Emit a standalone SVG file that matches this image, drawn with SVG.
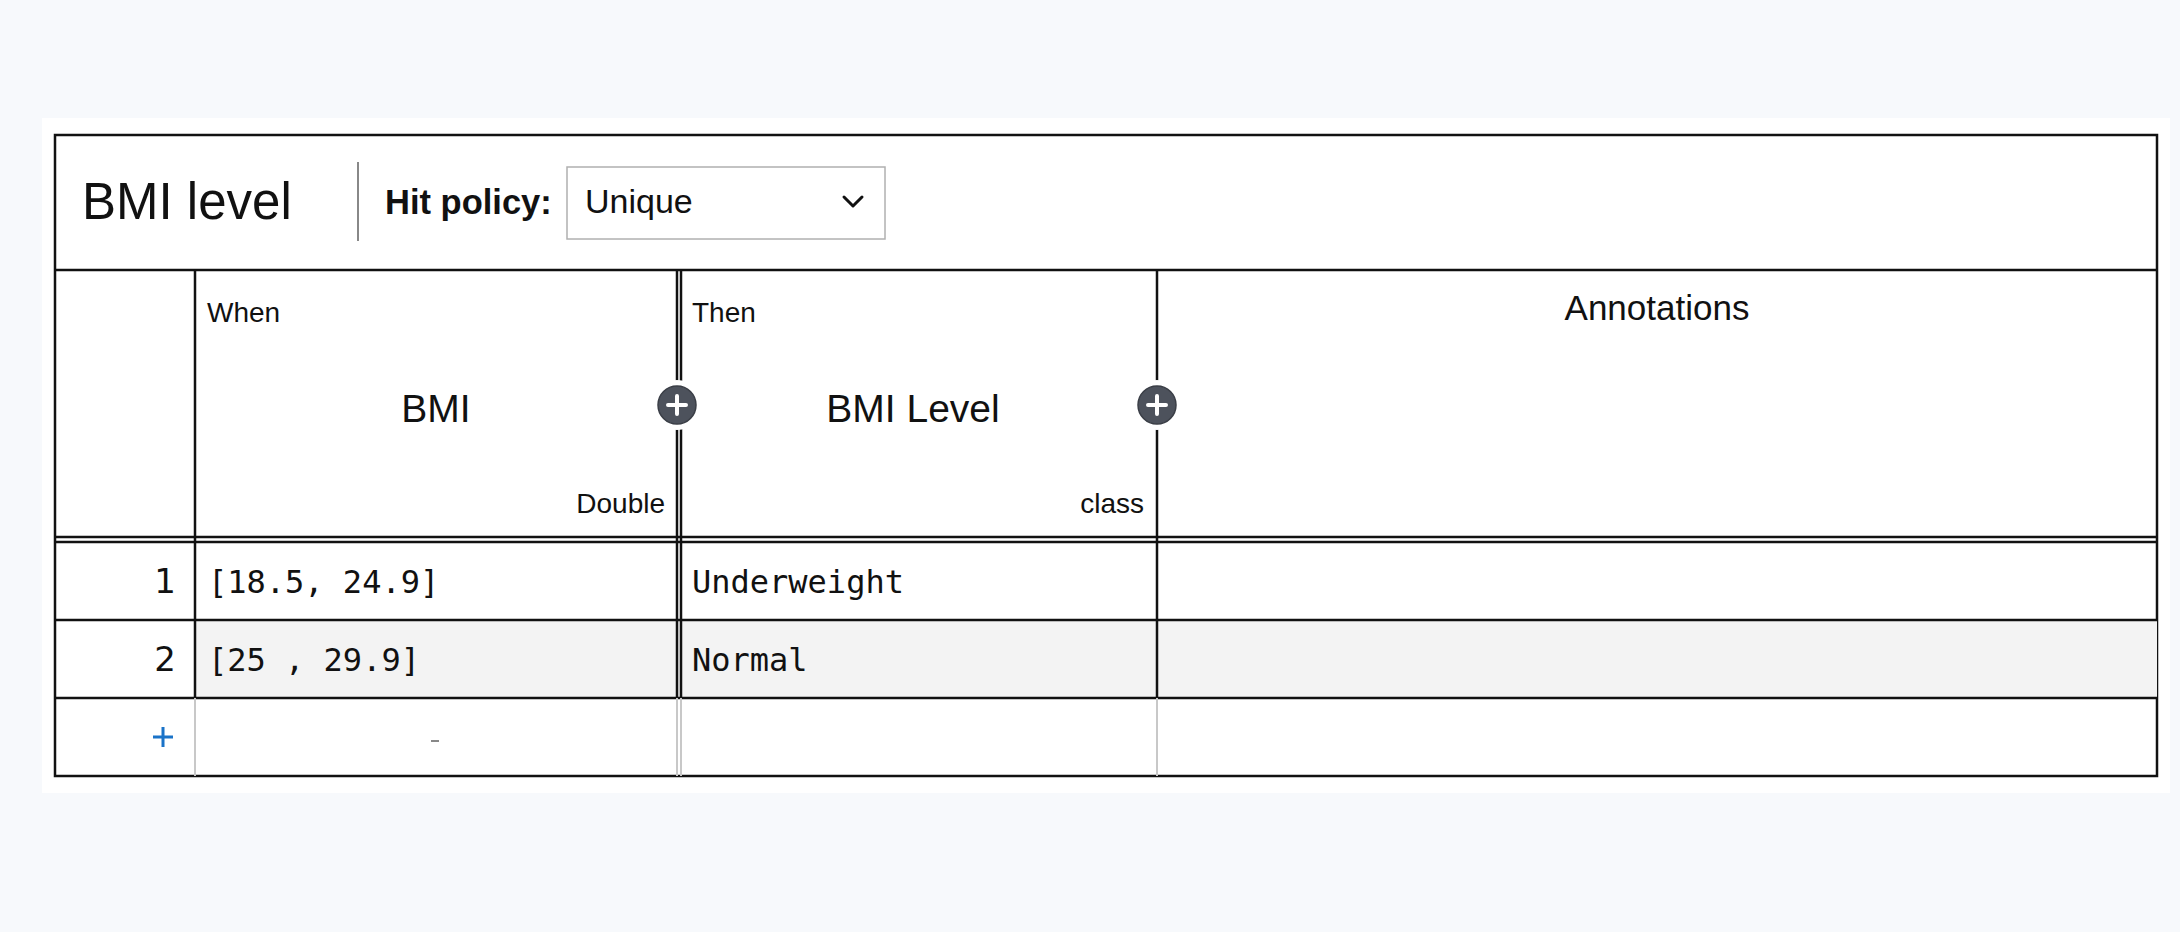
<svg xmlns="http://www.w3.org/2000/svg" width="2180" height="932" viewBox="0 0 2180 932">
<defs>
<style>
.sans{font-family:"Liberation Sans",Arial,sans-serif;fill:#111}
.mono{font-family:"DejaVu Sans Mono","Liberation Mono",monospace;fill:#111;font-size:32px}
.num{font-family:"DejaVu Sans","Liberation Sans",sans-serif;fill:#111;font-size:34px}
.grid{stroke:#111;stroke-width:2.5;fill:none}
.light{stroke:#c8c8c8;stroke-width:2;fill:none}
.sm{font-size:28px}
.hd{font-size:39px}
</style>
<g id="plusBtn">
<circle r="25" fill="#ffffff"/>
<circle r="19" fill="#4d525c" stroke="#3a3e46" stroke-width="1.5"/>
<path d="M-9 0H9M0 -9V9" stroke="#ffffff" stroke-width="4" stroke-linecap="round"/>
</g>
</defs>
<rect width="2180" height="932" fill="#f7f9fc"/>
<rect x="42" y="118" width="2128" height="675" fill="#ffffff"/>

<g id="table-frame">
<rect x="55" y="135" width="2102" height="641" fill="#ffffff" class="grid"/>
<rect x="195" y="620" width="1962" height="78" fill="#f3f3f3"/>
<line x1="55" y1="270" x2="2157" y2="270" class="grid"/>
<line x1="55" y1="537" x2="2157" y2="537" class="grid"/>
<line x1="55" y1="542" x2="2157" y2="542" class="grid"/>
<line x1="55" y1="620" x2="2157" y2="620" class="grid"/>
<line x1="55" y1="698" x2="2157" y2="698" class="grid"/>
<line x1="195" y1="270" x2="195" y2="698" class="grid"/>
<line x1="677" y1="270" x2="677" y2="698" class="grid" stroke-width="2"/>
<line x1="681" y1="270" x2="681" y2="698" class="grid" stroke-width="2"/>
<line x1="1157" y1="270" x2="1157" y2="698" class="grid"/>
<line x1="195" y1="698" x2="195" y2="776" class="light"/>
<line x1="677" y1="698" x2="677" y2="776" class="light"/>
<line x1="681" y1="698" x2="681" y2="776" class="light"/>
<line x1="1157" y1="698" x2="1157" y2="776" class="light"/>
</g>

<g id="title-bar">
<text x="82" y="219" class="sans" font-size="51">BMI level</text>
<line x1="358" y1="162" x2="358" y2="241" stroke="#888" stroke-width="2"/>
<text x="385" y="214" class="sans" font-size="34.5" font-weight="bold">Hit policy:</text>
<rect x="567" y="167" width="318" height="72" fill="#ffffff" stroke="#b0b0b0" stroke-width="1.5"/>
<text x="585" y="213" class="sans" font-size="34">Unique</text>
<path d="M844 197L853 206L862 197" fill="none" stroke="#111" stroke-width="3" stroke-linecap="round" stroke-linejoin="round"/>
</g>

<g id="input-header">
<text x="207" y="322" class="sans sm">When</text>
<text x="436" y="422" class="sans hd" text-anchor="middle">BMI</text>
<text x="665" y="513" class="sans sm" text-anchor="end">Double</text>
</g>

<g id="output-header">
<text x="692" y="322" class="sans sm">Then</text>
<text x="913" y="422" class="sans hd" text-anchor="middle">BMI Level</text>
<text x="1144" y="513" class="sans sm" text-anchor="end">class</text>
</g>

<g id="annotations-header">
<text x="1657" y="320" class="sans" font-size="35" text-anchor="middle">Annotations</text>
</g>

<g id="add-buttons">
<use href="#plusBtn" x="677" y="405"/>
<use href="#plusBtn" x="1157" y="405"/>
</g>

<g id="rule-1">
<text x="176" y="593" class="num" text-anchor="end">1</text>
<text x="208" y="593" class="mono">[18.5, 24.9]</text>
<text x="692" y="593" class="mono">Underweight</text>
</g>

<g id="rule-2">
<text x="176" y="671" class="num" text-anchor="end">2</text>
<text x="208" y="671" class="mono">[25 , 29.9]</text>
<text x="692" y="671" class="mono">Normal</text>
</g>

<g id="add-row">
<path d="M163 727V747M153 737H173" stroke="#1a73c8" stroke-width="3"/>
<line x1="431" y1="741" x2="439" y2="741" stroke="#888" stroke-width="2"/>
</g>
</svg>
